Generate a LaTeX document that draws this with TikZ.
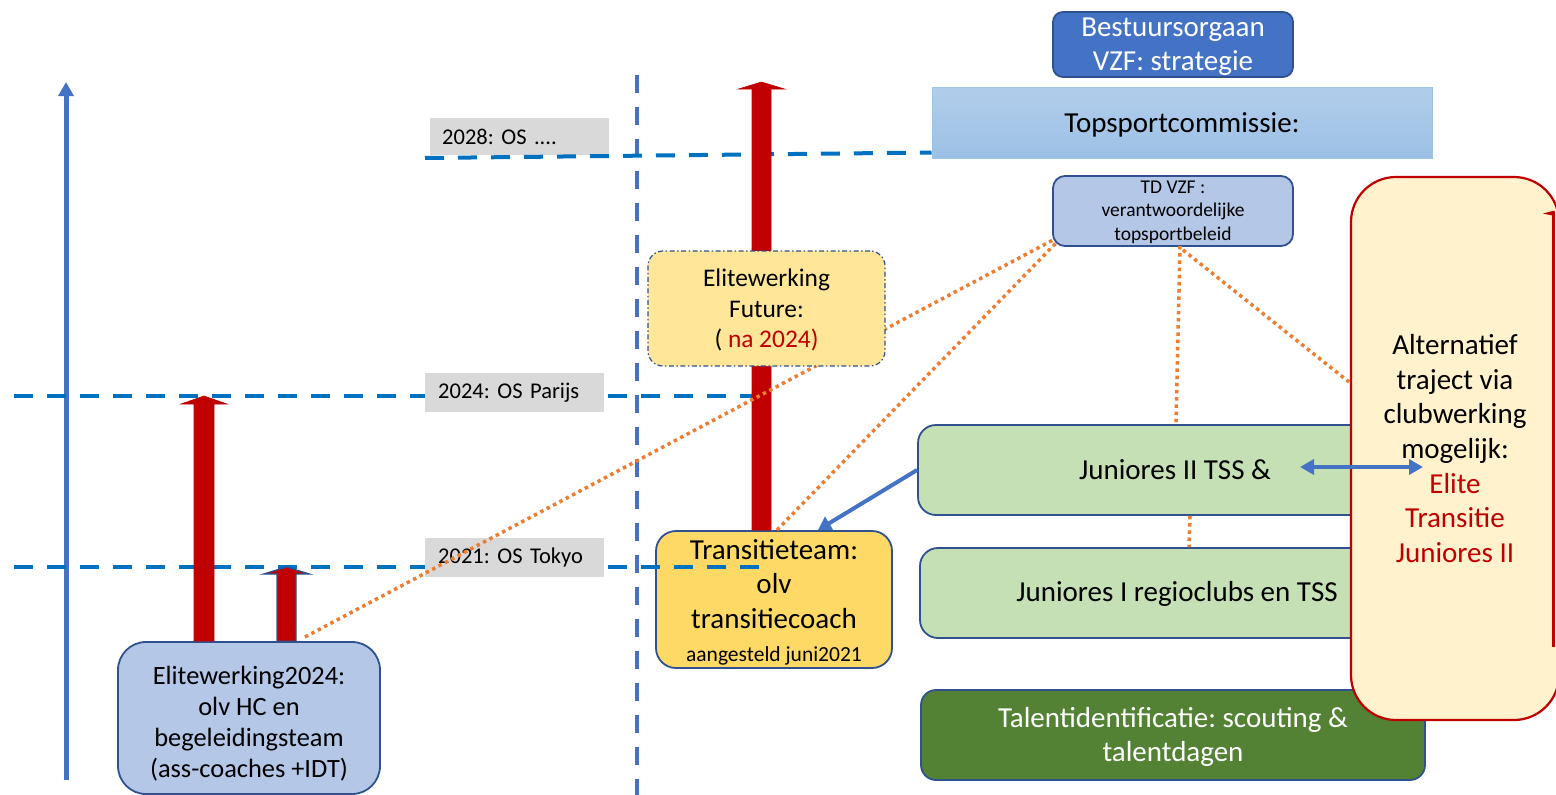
\documentclass[tikz,border=0pt]{standalone}
\usepackage{fontspec}
\setmainfont{Carlito}
\frenchspacing
\usetikzlibrary{arrows.meta,calc}

\definecolor{axisblue}{HTML}{4472C4}
\definecolor{yearblue}{HTML}{0070C0}
\definecolor{bordblue}{HTML}{2F528F}
\definecolor{arrowred}{HTML}{C00000}
\definecolor{linkorange}{HTML}{ED7D31}
\definecolor{labelgray}{HTML}{D9D9D9}
\definecolor{paleblue}{HTML}{B4C7E7}
\definecolor{topA}{HTML}{B2CDEB}
\definecolor{topB}{HTML}{9CC1E6}
\definecolor{topbord}{HTML}{9DC3E6}
\definecolor{futfill}{HTML}{FFE699}
\definecolor{transfill}{HTML}{FFD966}
\definecolor{juniorfill}{HTML}{C5E0B4}
\definecolor{talentfill}{HTML}{548235}
\definecolor{altfill}{HTML}{FFF2CC}

\newcommand\setfs[2]{\fontsize{#1}{#2}\selectfont}
% upward block arrow: #2 = reference point on the base line, #3 = tip,
% #4 = half shaft width, #5 = half head width, #6 = head length
\newcommand\redblock[6][]{%
  \filldraw[fill=arrowred, draw=arrowred, line width=0.6pt, #1]
    ($(#2 -| #3)+(-#4,0)$) -- ($(#3)+(-#4,#6)$) -- ($(#3)+(-#5,#6)$) -- (#3)
    -- ($(#3)+(#5,#6)$) -- ($(#3)+(#4,#6)$) -- ($(#2 -| #3)+(#4,0)$) -- cycle;}

\begin{document}
\begin{tikzpicture}[x=1pt, y=-1pt,
  box/.style={draw=bordblue, line width=1.8pt, inner sep=0pt, align=center, text=black},
  boxtext/.style={inner sep=0pt, align=center},
  yearlabel/.style={fill=labelgray, inner sep=0pt, minimum height=39pt, text width=179pt,
    inner xsep=0pt, font={\setfs{22.5}{27}}, anchor=north west},
  yearline/.style={draw=yearblue, line width=4pt, dash pattern=on 19pt off 14pt},
  dotlink/.style={draw=linkorange, line width=3.5pt, dash pattern=on 3.5pt off 3.7pt},
  bluearrow/.style={draw=axisblue, line width=4pt, -{Triangle[width=15pt,length=13pt]}},
]
\useasboundingbox (0,0) rectangle (1556,795);
\clip (0,0) rectangle (1556,795);

% time axis and the separating dashed line
\coordinate (axisbot) at (66,780);
\coordinate (axistop) at (66,82);
\draw[draw=axisblue, line width=5pt, -{Triangle[width=15pt,length=14pt]}] (axisbot) -- (axistop);
\coordinate (sepTop) at (637,75);
\coordinate (sepBot) at (637,795);
\draw[draw=axisblue, line width=4pt, dash pattern=on 18pt off 14pt] (sepTop) -- (sepBot);

% boxes below the year lines
\node[box, fill=transfill, rounded corners=20pt, minimum width=236pt, minimum height=137pt] (trans) at (774,599.5) {};
\node[boxtext, font={\setfs{29}{34.5}}] (transtxt) at (774,584) {Transitieteam:\\olv\\transitiecoach};
\node[boxtext, font={\setfs{21.5}{25}}] (transsub) at (774,656) {aangesteld juni2021};

\node[box, fill=paleblue, rounded corners=28pt, minimum width=262pt, minimum height=152pt] (elite) at (249,718) {};
\node[boxtext, font={\setfs{26.4}{31}}] (elitetxt) at (249,724)
  {Elitewerking2024:\\olv HC en\\begeleidingsteam\\(ass-coaches +IDT)};

% year lines
\coordinate (y28a) at (425,158);
\coordinate (y24a) at (14,396);
\coordinate (y24b) at (770,396);
\coordinate (y21a) at (14,567);
\coordinate (y21b) at (773,567);
\draw[yearline] (y24a) -- (y24b);
\draw[yearline] (y21a) -- (y21b);

\node[yearlabel] (l24) at (425,373) {\hspace*{13pt}2024: OS Parijs};
\node[yearlabel] (l21) at (425,538) {\hspace*{13pt}2021: OS Tokyo};
\node[yearlabel, minimum height=37pt] (l28) at (430,118) {\hspace*{12pt}2028: OS ....};

% top of the organisation
\node[box, fill=axisblue, rounded corners=10pt, minimum width=240pt, minimum height=65pt] (best) at (1173,44.5) {};
\node[boxtext, text=white, font={\setfs{29}{34}}] (besttxt) at (1173,47) {Bestuursorgaan\\VZF: strategie};
\node[draw=topbord, line width=1pt, top color=topA, bottom color=topB, inner sep=0pt,
  minimum width=500pt, minimum height=71pt] (tops) at (1182,122.5) {};
\node[boxtext, font={\setfs{29}{34}}] (topstxt) at (1182,124.5) {Topsportcommissie:};
\draw[yearline] (y28a) -- ($(tops.south west)+(0,-6)$);

\node[box, fill=paleblue, rounded corners=12pt, minimum width=240pt, minimum height=70pt] (td) at (1173,211) {};
\node[boxtext, font={\setfs{19.5}{23.5}}] (tdtxt) at (1173,212) {TD VZF :\\verantwoordelijke\\topsportbeleid};

\node[box, fill=juniorfill, rounded corners=18pt, minimum width=514pt, minimum height=90pt,
  font={\setfs{29}{34}}] (jun2) at (1175,470) {Juniores II TSS \&};
\node[box, fill=juniorfill, rounded corners=18pt, minimum width=514pt, minimum height=90pt] (jun1) at (1177,593) {};
\node[boxtext, font={\setfs{29}{34}}] (jun1txt) at (1177,594) {Juniores I regioclubs en TSS};
\node[box, fill=talentfill, rounded corners=15pt, minimum width=504pt, minimum height=90pt] (talent) at (1173,735) {};
\node[boxtext, text=white, font={\setfs{29}{34}}] (talenttxt) at (1173,737) {Talentidentificatie: scouting \&\\talentdagen};

% upward red arrows
\coordinate (tipA) at (204,396);
\coordinate (tipB) at (286.5,567);
\coordinate (tipC) at (761.5,82);
\redblock{elite.north}{tipA}{10}{23}{8}
\redblock[draw=bordblue, line width=1.2pt]{elite.north}{tipB}{9.5}{23}{7}
\redblock{trans.north}{tipC}{9.5}{23}{7}

% dotted responsibility links
\coordinate (eliteLink) at (305,637);
\coordinate (tdA) at (1053,240);
\coordinate (tdB) at (1056,243);
\coordinate (tdC) at (1180,246);
\coordinate (tdD) at (1183,250);
\coordinate (transLink) at (777,530);
\coordinate (altLink) at (1349,382);
\draw[dotlink] (eliteLink) -- (tdA);
\draw[dotlink] (transLink) -- (tdB);
\draw[dotlink] (tdC) -- (jun2.north -| 1176,0);
\draw[dotlink] (tdD) -- (altLink);
\draw[dotlink] (jun2.south -| 1190,0) -- (jun1.north -| 1189,0);

% future elite programme
\node[box, fill=futfill, line width=1.2pt, dash pattern=on 5pt off 2.5pt on 1.5pt off 2.5pt,
  rounded corners=15pt, minimum width=237pt, minimum height=115pt] (future) at (766.5,308.5) {};
\node[boxtext, font={\setfs{25.4}{30.5}}] (futuretxt) at (766.5,310)
  {Elitewerking\\Future:\\( \textcolor{arrowred}{na 2024)}};

% alternative route through the clubs
\node[draw=arrowred, line width=2.2pt, fill=altfill, rounded corners=45pt, inner sep=0pt, align=center,
  minimum width=208pt, minimum height=543pt, font={\setfs{29}{34.7}}] (alt) at (1455,448.5)
  {Alternatief\\traject via\\clubwerking\\mogelijk:\\\textcolor{arrowred}{Elite}\\\textcolor{arrowred}{Transitie}\\\textcolor{arrowred}{Juniores II}};
\coordinate (altTop) at (1553,212);
\coordinate (altBot) at (1553,647);
\draw[draw=arrowred, line width=3pt] (altBot) -- (altTop);
\fill[arrowred] (1554.5,210.5) -- (1543,213.5) -- (1554.5,216) -- cycle;

% blue connectors
\coordinate (dblL) at (1300,467);
\coordinate (dblR) at (1423,467);
\draw[draw=axisblue, line width=4pt, {Triangle[width=15pt,length=14pt]}-{Triangle[width=15pt,length=14pt]}] (dblL) -- (dblR);
\coordinate (transIn) at (818,530);
\draw[bluearrow] (jun2.west) -- (transIn);
\end{tikzpicture}
\end{document}
